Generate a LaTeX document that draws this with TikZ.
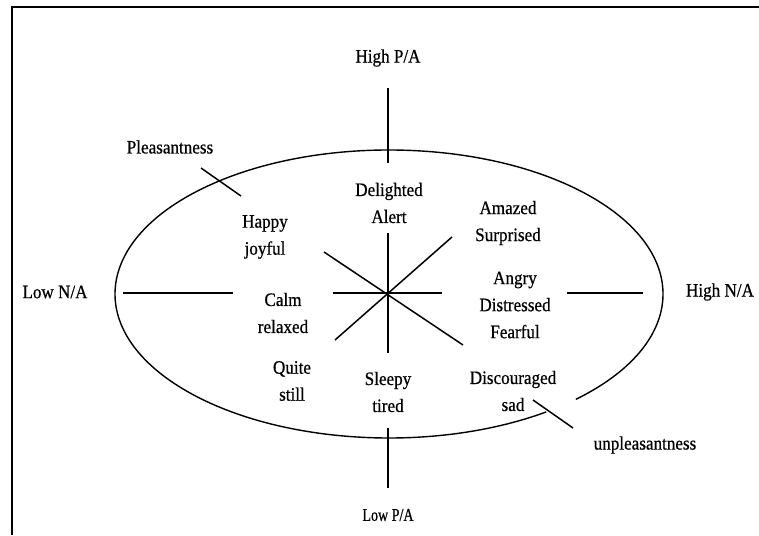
\documentclass[tikz,border=0pt]{standalone}
\usepackage{fontspec}
\setmainfont{Liberation Serif}[FakeStretch=0.9, FakeBold=0.6]
\newfontfamily\narrowfont{Liberation Serif}[FakeStretch=0.78, FakeBold=0.6]
\usetikzlibrary{positioning}

\begin{document}
\begin{tikzpicture}[x=1pt, y=1pt,
    lbl/.style={align=center, inner sep=0pt, font=\fontsize{19}{27}\selectfont},
    small/.style={lbl, font=\narrowfont\fontsize{18}{22}\selectfont},
    axis/.style={line width=1.5pt},
    rim/.style={line width=1.4pt}]
  \useasboundingbox (0,0) rectangle (759,535);
  % Frame
  \draw[line width=2.5pt] (12,0) -- (12,528) -- (759,528);
  % Ellipse, open where the unpleasantness tick crosses it
  \coordinate (o) at (389,241);
  \draw[rim] (o) ++(-47:274pt and 144pt)
    arc[start angle=-47, end angle=305, x radius=274pt, y radius=144pt];
  % Axis labels
  \node[lbl] (hpa) at (388,477) {High P/A};
  \node[small] (lpa) at (388,20) {Low P/A};
  \node[lbl] (lna) at (55,243) {Low N/A};
  \node[lbl] (hna) at (720,243) {High N/A};
  \node[lbl] (pleas) at (170,388) {Pleasantness};
  \node[lbl] (unpleas) at (645,90) {unpleasantness};
  % Emotion labels
  \node[lbl] (delight) at (389,332) {Delighted\\Alert};
  \node[lbl] (happy) at (265,298) {Happy\\joyful};
  \node[lbl] (amazed) at (508,312) {Amazed\\Surprised};
  \node[lbl] (calm) at (283,222) {Calm\\relaxed};
  \node[lbl] (angry) at (515,230) {Angry\\Distressed\\Fearful};
  \node[lbl] (quite) at (292,154) {Quite\\still};
  \node[lbl] (sleepy) at (388,143) {Sleepy\\tired};
  \node[lbl] (discour) at (513,144) {Discouraged\\sad};
  % Line ends
  \coordinate (c) at (388,242);
  \foreach \n/\x/\y in {pa1/388/447, pa2/388/372, pa3/388/302, pa4/388/182,
      pa5/388/107, pa6/388/47, na1/123/242, na2/233/242, na3/333/242,
      na4/442/242, na5/567/242, na6/643/242, ne/452/298, sw/335/195,
      nw/324/283, se/463/190, pt1/201/367, pt2/241/339,
      ut1/533/135, ut2/573/107}
    \coordinate (\n) at (\x,\y);
  % Axes
  \draw[axis] (pa1) -- (pa2);
  \draw[axis] (pa3) -- (pa4);
  \draw[axis] (pa5) -- (pa6);
  \draw[axis] (na1) -- (na2);
  \draw[axis] (na3) -- (na4);
  \draw[axis] (na5) -- (na6);
  % Diagonals
  \draw[axis] (sw) -- (ne);
  \draw[axis] (nw) -- (se);
  % Ticks
  \draw[axis] (pt1) -- (pt2);
  \draw[axis] (ut1) -- (ut2);
\end{tikzpicture}
\end{document}
